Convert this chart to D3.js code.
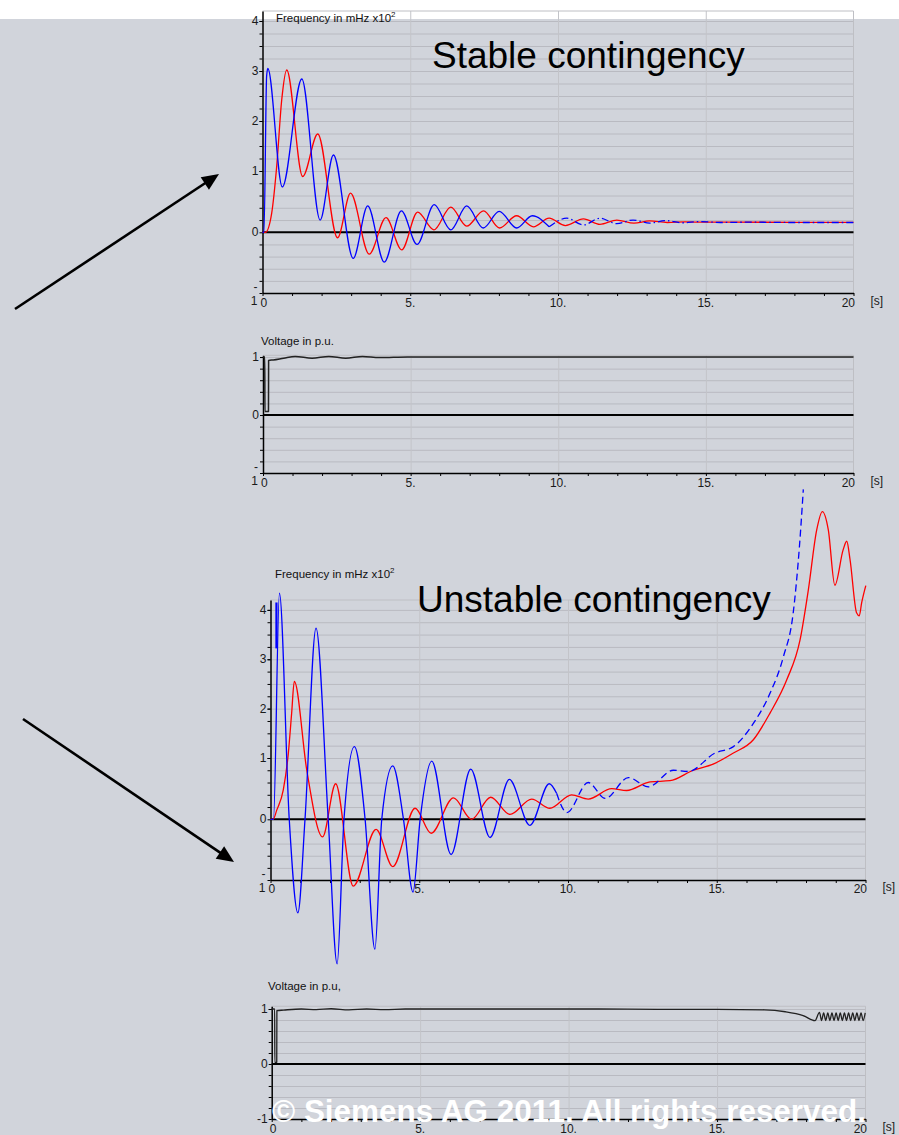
<!DOCTYPE html>
<html><head><meta charset="utf-8">
<script src="https://cdn.jsdelivr.net/npm/d3@7"></script>
<style>body{margin:0;background:#fff;}svg{display:block;font-family:"Liberation Sans",Arial,sans-serif;}</style>
</head><body>
<svg id="c" width="899" height="1135"></svg>
<script>
// ---------- DATA ----------
const xTickValues = [0, 5, 10, 15, 20];
const xTickLabels = ["0", "5.", "10.", "15.", "20"];
const xMinorTicks = d3.range(0, 21, 1);
const freqMajorTicks = [4, 3, 2, 1, 0, -1];
const freqGridValues = [-0.8, -0.6, -0.4, -0.2, 0.2, 0.4, 0.6, 0.8, 1, 1.25, 1.5, 1.75, 2, 2.25, 2.5, 2.75, 3, 3.25, 3.5, 3.75, 4];
const voltMajorTicks = [1, 0, -1];
const voltGridValues = [-0.8, -0.6, -0.4, -0.2, 0.2, 0.4, 0.6, 0.8, 1];

// Stable contingency - frequency (x100 mHz)
const stableBlueT = [0, 0.05, 0.14, 0.18, 0.67, 1.33, 1.95, 2.4, 3.07, 3.56, 4.12, 4.70, 5.23, 5.81, 6.37, 6.91, 7.47, 8.01, 8.6, 9.13, 9.7];
const stableBlueV = [0, 0, 2.9, 3.05, 0.74, 2.84, 0.2, 1.32, -0.43, 0.43, -0.49, 0.35, -0.2, 0.45, 0.04, 0.43, 0.07, 0.34, 0.07, 0.27, 0.09];
const stableBlueDashT = [9.7, 10.3, 10.86, 11.42, 11.99, 12.54, 13.1, 13.65, 14.2, 14.8, 15.5, 16.5, 18, 20];
const stableBlueDashV = [0.09, 0.23, 0.12, 0.23, 0.14, 0.2, 0.15, 0.19, 0.155, 0.175, 0.16, 0.165, 0.16, 0.16];
const stableRedT = [0, 0.1, 0.31, 0.48, 0.65, 0.82, 1.36, 1.87, 2.54, 2.98, 3.61, 4.18, 4.71, 5.25, 5.8, 6.37, 6.91, 7.48, 8.02, 8.6, 9.17, 9.7, 10.25, 10.86, 11.42, 11.99, 12.57, 13.1, 13.7, 14.3, 15, 16, 18, 20];
const stableRedV = [0, 0, 0.31, 1.09, 2.42, 3.02, 0.91, 1.74, -0.09, 0.64, -0.36, 0.24, -0.29, 0.33, 0.04, 0.41, 0.1, 0.35, 0.07, 0.27, 0.09, 0.23, 0.11, 0.22, 0.13, 0.2, 0.15, 0.185, 0.16, 0.17, 0.165, 0.165, 0.163, 0.163];

// Stable contingency - voltage (p.u.)
const stableVoltT = [0, 0.06, 0.065, 0.185, 0.19, 0.35, 0.7, 1.09, 1.66, 2.23, 2.8, 3.37, 3.94, 4.9, 6, 20];
const stableVoltV = [1, 1, 0.06, 0.06, 0.94, 0.95, 0.98, 1.01, 0.98, 1.01, 0.98, 1.01, 0.99, 1.0, 1.0, 1.0];

// Unstable contingency - frequency (x100 mHz)
const unstBlueT = [0, 0.1, 0.3, 0.63, 0.92, 1.16, 1.53, 1.94, 2.24, 2.47, 2.82, 3.18, 3.51, 3.74, 4.11, 4.47, 4.79, 5.03, 5.42, 6.07, 6.73, 7.38, 8.03, 8.72, 9.37, 9.62];
const unstBlueV = [0, 0, 4.34, 0, -1.54, 0, 3.63, 0, -2.38, 0, 1.23, 0, -2.14, 0, 0.87, 0, -1.2, 0, 0.95, -0.58, 0.82, -0.30, 0.65, -0.1, 0.58, 0.42];
const unstBlueSpikeT = [0.2, 0.2];
const unstBlueSpikeV = [4.15, 3.22];
const unstBlueDashT = [9.62, 9.96, 10.68, 11.25, 12.03, 12.7, 13.54, 14.04, 14.94, 15.56, 16.23, 16.79, 17.24, 17.57, 17.78, 17.91];
const unstBlueDashV = [0.42, 0.11, 0.6, 0.34, 0.68, 0.53, 0.8, 0.78, 1.1, 1.23, 1.7, 2.31, 3.05, 3.94, 5.29, 6.44];
const unstRedT = [0, 0.09, 0.21, 0.43, 0.6, 0.71, 0.8, 1.22, 1.75, 2.19, 2.78, 3.55, 4.11, 4.86, 5.4, 6.15, 6.76, 7.4, 8.05, 8.78, 9.39, 10.12, 10.68, 11.47, 11.97, 12.76, 13.43, 14.21, 14.88, 15.56, 16.23, 16.79, 17.35, 17.8, 18.08, 18.36, 18.55, 18.75, 18.97, 19.25, 19.37, 19.48, 19.7, 19.79, 19.87, 20.01];
const unstRedV = [0, 0, 0.15, 0.48, 1.1, 1.9, 2.55, 0.8, -0.29, 0.58, -1.1, -0.165, -0.78, 0.18, -0.23, 0.35, 0.0, 0.36, 0.08, 0.33, 0.18, 0.4, 0.33, 0.5, 0.47, 0.61, 0.63, 0.8, 0.9, 1.1, 1.37, 1.91, 2.58, 3.39, 4.41, 5.62, 5.99, 5.62, 4.5, 5.22, 5.39, 5.02, 3.94, 3.88, 4.14, 4.49];

// Unstable contingency - voltage (p.u.)
const unstVoltT = [0, 0.1, 0.105, 0.17, 0.175, 0.4, 1.0, 1.5, 2.0, 2.6, 3.2, 3.8, 4.5, 5.5, 8, 11, 13, 15, 16.6, 17.3, 17.9, 18.3, 18.45,
  18.52, 18.59, 18.66, 18.73, 18.8, 18.87, 18.94, 19.01, 19.08, 19.15, 19.22, 19.29, 19.36, 19.43, 19.5, 19.57, 19.64, 19.71, 19.78, 19.85, 19.92, 19.99];
const unstVoltV = [1, 1, 0.03, 0.03, 0.97, 0.98, 1.0, 0.99, 1.005, 0.985, 1.0, 0.99, 1.0, 1.0, 1.0, 1.0, 0.995, 0.995, 0.985, 0.95, 0.88, 0.79, 0.94,
  0.79, 0.93, 0.79, 0.93, 0.79, 0.93, 0.79, 0.93, 0.79, 0.93, 0.79, 0.93, 0.79, 0.93, 0.79, 0.93, 0.79, 0.93, 0.79, 0.93, 0.79, 0.93];

// ---------- DRAWING ----------
const svg = d3.select("#c");
svg.append("rect").attr("x", 0).attr("y", 19).attr("width", 899).attr("height", 1116).attr("fill", "#d1d4db");

const zip = (T, V) => T.map((t, i) => [t, V[i]]);

function panel(cfg) {
  const x = d3.scaleLinear().domain([0, 20]).range([cfg.x0, cfg.x1]);
  const y = d3.scaleLinear().domain(cfg.yDom).range(cfg.yRange);
  const yb = y(cfg.yDom[0]), yt = y(cfg.yDom[cfg.yDom.length - 1]);
  const w = cfg.x1 - cfg.x0;
  const g = svg.append("g");

  g.append("g").attr("transform", `translate(${cfg.x0},0)`)
    .call(d3.axisLeft(y).tickValues(cfg.grid).tickSize(-w).tickSizeOuter(0).tickFormat(""))
    .call(s => s.select(".domain").remove())
    .selectAll("line").attr("stroke", "#b9bac1").attr("stroke-width", 1);
  g.append("g").attr("transform", `translate(0,${yb})`)
    .call(d3.axisBottom(x).tickValues([5, 10, 15]).tickSize(-(yb - yt)).tickSizeOuter(0).tickFormat(""))
    .call(s => s.select(".domain").remove())
    .selectAll("line").attr("stroke", "#c3c4c9").attr("stroke-width", 1);
  g.append("path").attr("d", `M${cfg.x0},${yt}H${cfg.x1}V${yb}`).attr("fill", "none").attr("stroke", "#bebfc4").attr("stroke-width", 1);

  g.append("g").attr("transform", `translate(${cfg.x0},0)`)
    .call(d3.axisLeft(y).tickValues(cfg.grid.concat(cfg.majors)).tickSize(3).tickSizeOuter(0).tickFormat(""))
    .call(s => s.select(".domain").attr("stroke", "#000").attr("stroke-width", 1.5))
    .selectAll("line").attr("stroke", "#000");
  g.append("g").attr("transform", `translate(0,${yb})`)
    .call(d3.axisBottom(x).tickValues(xMinorTicks).tickSize(3).tickSizeOuter(0).tickFormat(""))
    .call(s => s.select(".domain").attr("stroke", "#000").attr("stroke-width", 1.5))
    .selectAll("line").attr("stroke", "#000");
  g.append("line").attr("x1", cfg.x0).attr("x2", cfg.x1).attr("y1", y(0)).attr("y2", y(0))
    .attr("stroke", "#000").attr("stroke-width", 2);

  cfg.majors.forEach(v => {
    if (v === -1 && cfg.splitNeg) {
      g.append("text").attr("x", cfg.x0 - 5).attr("y", y(v) - 6).attr("text-anchor", "end")
        .attr("dominant-baseline", "central").attr("font-size", 12).attr("fill", "#1a1a1a").text("-");
      g.append("text").attr("x", cfg.x0 - 5).attr("y", y(v) + 8).attr("text-anchor", "end")
        .attr("dominant-baseline", "central").attr("font-size", 12).attr("fill", "#1a1a1a").text("1");
    } else {
      g.append("text").attr("x", cfg.x0 - 4).attr("y", y(v)).attr("text-anchor", "end")
        .attr("dominant-baseline", "central").attr("font-size", 12).attr("fill", "#1a1a1a").text(String(v));
    }
  });
  xTickValues.forEach((v, i) => {
    const last = i === xTickValues.length - 1;
    const anchor = i === 0 ? "start" : last ? "end" : "middle";
    const xx = i === 0 ? x(v) - 2 : last ? x(v) + 1.5 : x(v);
    g.append("text").attr("x", xx).attr("y", yb + cfg.lblDy).attr("text-anchor", anchor)
      .attr("font-size", 12).attr("fill", "#1a1a1a").text(xTickLabels[i]);
  });
  g.append("text").attr("x", cfg.x1 + 17).attr("y", yb + cfg.lblDy - 2).attr("font-size", 12)
    .attr("fill", "#1a1a1a").text("[s]");

  const tt = g.append("text").attr("x", cfg.titleX).attr("y", cfg.titleY).attr("font-size", 11.5).attr("fill", "#111");
  tt.append("tspan").text(cfg.title);
  if (cfg.sup) tt.append("tspan").attr("dy", -5).attr("font-size", 8).text(cfg.sup);

  const line = d3.line().x(d => x(d[0])).y(d => y(d[1])).curve(d3.curveMonotoneX);
  cfg.series.forEach(s => {
    g.append("path").attr("d", line(s.data)).attr("fill", "none").attr("stroke", s.color)
      .attr("stroke-width", s.width || 1.3).attr("stroke-dasharray", s.dash || null)
      .attr("stroke-linejoin", "round");
  });
}

panel({
  x0: 262.5, x1: 853.5, yDom: [-1, 0, 1, 4.2], yRange: [293, 232.3, 171, 11],
  grid: freqGridValues, majors: freqMajorTicks, splitNeg: true, lblDy: 14,
  title: "Frequency in mHz x10", sup: "2", titleX: 276, titleY: 22,
  series: [
    { data: zip(stableRedT, stableRedV), color: "#ff0000" },
    { data: zip(stableBlueT, stableBlueV), color: "#0000ff" },
    { data: zip(stableBlueDashT, stableBlueDashV), color: "#0000ff", dash: "7,3,1.5,3" }
  ]
});
panel({
  x0: 263, x1: 853.5, yDom: [-1, 1.03], yRange: [473, 355.3],
  grid: voltGridValues, majors: voltMajorTicks, splitNeg: true, lblDy: 14,
  title: "Voltage in p.u.", titleX: 261, titleY: 345,
  series: [{ data: zip(stableVoltT, stableVoltV), color: "#222", width: 1.5 }]
});
panel({
  x0: 270.5, x1: 865.5, yDom: [-1, 0, 1, 4.2], yRange: [880, 819.3, 758, 600],
  grid: freqGridValues, majors: freqMajorTicks, splitNeg: true, lblDy: 13,
  title: "Frequency in mHz x10", sup: "2", titleX: 275, titleY: 578,
  series: [
    { data: zip(unstRedT, unstRedV), color: "#ff0000" },
    { data: zip(unstBlueT, unstBlueV), color: "#0000ff" },
    { data: zip(unstBlueSpikeT, unstBlueSpikeV), color: "#0000ff", width: 2.2 },
    { data: zip(unstBlueDashT, unstBlueDashV), color: "#0000ff", dash: "7,4" }
  ]
});
panel({
  x0: 271.7, x1: 865.5, yDom: [-1, 1.05], yRange: [1119, 1006.25],
  grid: voltGridValues, majors: voltMajorTicks, splitNeg: false, lblDy: 14,
  title: "Voltage in p.u,", titleX: 268, titleY: 990,
  series: [{ data: zip(unstVoltT, unstVoltV), color: "#222", width: 1.3 }]
});

svg.append("text").attr("x", 432).attr("y", 68).attr("font-size", 37).attr("fill", "#000").text("Stable contingency");
svg.append("text").attr("x", 417).attr("y", 612).attr("font-size", 37).attr("fill", "#000").text("Unstable contingency");

function arrow(x1, y1, x2, y2) {
  const a = Math.atan2(y2 - y1, x2 - x1), L = 17, H = 7.5;
  const bx = x2 - L * Math.cos(a), by = y2 - L * Math.sin(a);
  svg.append("line").attr("x1", x1).attr("y1", y1).attr("x2", bx + 2 * Math.cos(a)).attr("y2", by + 2 * Math.sin(a))
    .attr("stroke", "#000").attr("stroke-width", 2.6);
  svg.append("path").attr("d", `M${x2},${y2}L${bx - H * Math.sin(a)},${by + H * Math.cos(a)}L${bx + H * Math.sin(a)},${by - H * Math.cos(a)}Z`)
    .attr("fill", "#000");
}
arrow(15, 309, 219, 174);
arrow(23, 719, 234, 862);

svg.append("text").attr("x", 272).attr("y", 1122).attr("font-size", 32).attr("font-weight", "bold")
  .attr("fill", "#fff").attr("textLength", 594).attr("lengthAdjust", "spacingAndGlyphs")
  .text("© Siemens AG 2011. All rights reserved.");
</script>
</body></html>
